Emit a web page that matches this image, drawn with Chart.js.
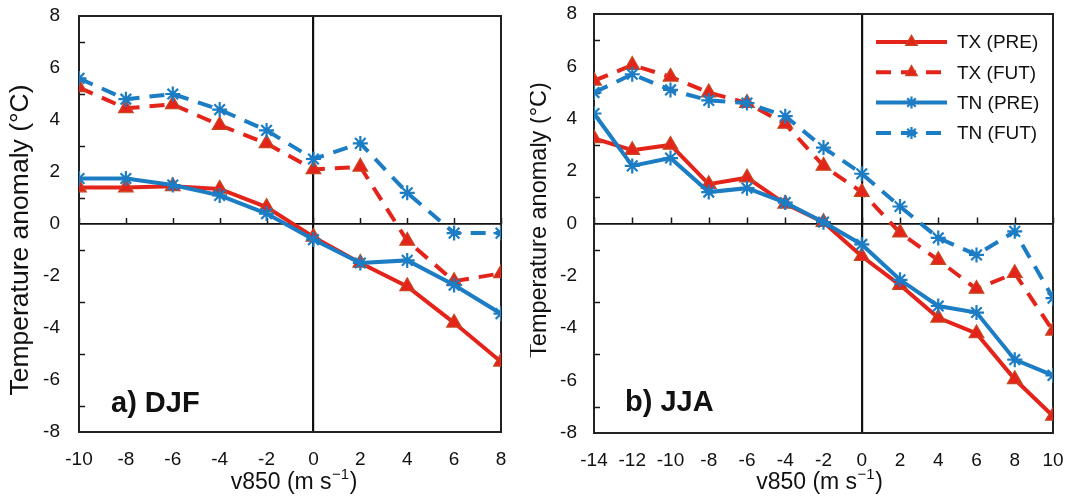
<!DOCTYPE html>
<html>
<head>
<meta charset="utf-8">
<script src="https://cdn.jsdelivr.net/npm/chart.js@4.4.1/dist/chart.umd.min.js"></script>
<style>
  html, body { margin: 0; padding: 0; background: #fff; }
  #wrap { position: relative; width: 1067px; height: 498px; overflow: hidden; }
  canvas { position: absolute; top: 0; }
  #c1 { left: 0; }
  #c2 { left: 530px; }
</style>
</head>
<body>
<div id="wrap">
  <canvas id="c1" width="530" height="498"></canvas>
  <canvas id="c2" width="537" height="498"></canvas>
</div>
<script>
// ---------- DATA ----------
const seriesNames = ['TX (PRE)', 'TX (FUT)', 'TN (PRE)', 'TN (FUT)'];
const yTicks = [-8, -6, -4, -2, 0, 2, 4, 6, 8];

// a) DJF
const xDJF      = [-10, -8, -6, -4, -2, 0, 2, 4, 6, 8];
const txPreDJF  = [1.4, 1.4, 1.45, 1.35, 0.65, -0.5, -1.5, -2.4, -3.8, -5.3];
const txFutDJF  = [5.25, 4.45, 4.6, 3.8, 3.1, 2.1, 2.2, -0.65, -2.2, -1.9];
const tnPreDJF  = [1.75, 1.75, 1.5, 1.1, 0.4, -0.6, -1.5, -1.4, -2.35, -3.45];
const tnFutDJF  = [5.6, 4.8, 5.0, 4.4, 3.6, 2.5, 3.1, 1.2, -0.35, -0.35];

// b) JJA
const xJJA      = [-14, -12, -10, -8, -6, -4, -2, 0, 2, 4, 6, 8, 10];
const txPreJJA  = [3.25, 2.8, 3.0, 1.5, 1.75, 0.75, 0.05, -1.25, -2.35, -3.6, -4.2, -5.95, -7.35];
const txFutJJA  = [5.45, 6.05, 5.6, 5.0, 4.6, 3.8, 2.2, 1.2, -0.35, -1.4, -2.5, -1.9, -4.1];
const tnPreJJA  = [4.2, 2.2, 2.5, 1.2, 1.35, 0.8, 0.05, -0.8, -2.15, -3.15, -3.4, -5.2, -5.8];
const tnFutJJA  = [5.0, 5.7, 5.1, 4.7, 4.6, 4.1, 2.9, 1.9, 0.65, -0.55, -1.2, -0.3, -2.85];

// ---------- STYLE ----------
const RED = 'rgb(228,36,26)';
const RED_EDGE = 'rgb(200,70,30)';
const BLUE = 'rgb(28,125,196)';
const FONT = '"Liberation Sans", Arial, Helvetica, sans-serif';
const DASH = [15, 10];

function styleFor(i) {
  const isTX = i < 2;
  const isFut = i % 2 === 1;
  return {
    borderColor: isTX ? RED : BLUE,
    backgroundColor: isTX ? RED : BLUE,
    pointBackgroundColor: isTX ? RED : BLUE,
    pointBorderColor: isTX ? RED_EDGE : BLUE,
    pointStyle: isTX ? 'triangle' : 'star',
    pointRadius: isTX ? 8.5 : 7.5,
    pointBorderWidth: isTX ? 1.2 : 2.2,
    borderWidth: 4,
    borderDash: isFut ? DASH : [],
    tension: 0,
    fill: false
  };
}

function makeDatasets(xs, arrs) {
  const order = [3, 2, 1, 0];
  return arrs.map((vals, i) => Object.assign({
    label: seriesNames[i],
    data: xs.map((x, k) => ({ x: x, y: vals[k] })),
    order: order[i]
  }, styleFor(i)));
}

function drawSuperTitle(ctx, cx, cy) {
  const big = '23px ' + FONT, small = '15px ' + FONT;
  const p1 = 'v850 (m s', sup = '\u22121', p2 = ')';
  ctx.font = big; const w1 = ctx.measureText(p1).width, w3 = ctx.measureText(p2).width;
  ctx.font = small; const w2 = ctx.measureText(sup).width;
  const total = w1 + w2 + w3 + 1;
  let x = cx - total / 2;
  ctx.textAlign = 'left'; ctx.textBaseline = 'middle'; ctx.fillStyle = '#111';
  ctx.font = big; ctx.fillText(p1, x, cy); x += w1;
  ctx.font = small; ctx.fillText(sup, x + 0.5, cy - 8); x += w2 + 1;
  ctx.font = big; ctx.fillText(p2, x, cy);
}

const decor = {
  id: 'decor',
  beforeDatasetsDraw(chart, args, o) {
    const { ctx, chartArea: a, scales: { x, y } } = chart;
    ctx.save();
    ctx.strokeStyle = '#1a1a1a';
    ctx.lineWidth = 1.5;
    for (let v = y.min + 1; v < y.max; v += 2) {
      const py = Math.round(y.getPixelForValue(v)) + 0.5;
      ctx.beginPath(); ctx.moveTo(a.left, py); ctx.lineTo(a.left + 6, py); ctx.stroke();
    }
    const y0 = y.getPixelForValue(0);
    o.xs.forEach(v => {
      const px = Math.round(x.getPixelForValue(v)) + 0.5;
      ctx.beginPath(); ctx.moveTo(px, y0); ctx.lineTo(px, y0 - 6); ctx.stroke();
    });
    ctx.lineWidth = 2;
    ctx.strokeStyle = '#222';
    ctx.strokeRect(a.left, a.top, a.right - a.left, a.bottom - a.top);
    ctx.restore();
  },
  afterDraw(chart, args, o) {
    const { ctx, chartArea: a } = chart;
    ctx.save();
    ctx.font = 'bold 29px ' + FONT;
    ctx.fillStyle = '#111';
    ctx.textAlign = 'left'; ctx.textBaseline = 'alphabetic';
    ctx.fillText(o.panel, o.panelX, o.panelY);
    ctx.save();
    ctx.translate(o.yTitleX, o.yTitleY);
    ctx.rotate(-Math.PI / 2);
    ctx.font = o.yTitleSize + 'px ' + FONT;
    ctx.textAlign = 'center'; ctx.textBaseline = 'middle';
    ctx.fillText('Temperature anomaly (\u00B0C)', 0, 0);
    ctx.restore();
    drawSuperTitle(ctx, (a.left + a.right) / 2 + o.xTitleDX, o.xTitleY);
    if (o.legend) {
      const L = o.legend;
      chart.data.datasets.forEach((ds, i) => {
        const yy = L.y0 + i * L.dy;
        ctx.save();
        ctx.strokeStyle = ds.borderColor;
        ctx.lineWidth = ds.borderWidth;
        ctx.lineCap = 'butt';
        ctx.setLineDash(ds.borderDash || []);
        ctx.beginPath(); ctx.moveTo(L.x0, yy); ctx.lineTo(L.x1, yy); ctx.stroke();
        ctx.setLineDash([]);
        ctx.fillStyle = ds.pointBackgroundColor;
        ctx.strokeStyle = ds.pointBorderColor;
        ctx.lineWidth = ds.pointBorderWidth;
        Chart.helpers.drawPoint(ctx, {
          pointStyle: ds.pointStyle, radius: ds.pointRadius * 0.8, borderWidth: ds.pointBorderWidth,
          rotation: 0
        }, (L.x0 + L.x1) / 2, yy);
        ctx.restore();
        ctx.font = '19px ' + FONT;
        ctx.fillStyle = '#111';
        ctx.textAlign = 'left'; ctx.textBaseline = 'middle';
        ctx.fillText(ds.label, L.tx, yy + 1);
      });
    }
    ctx.restore();
  }
};

function makeChart(id, xs, arrs, opt) {
  const ctx = document.getElementById(id).getContext('2d');
  return new Chart(ctx, {
    type: 'line',
    data: { datasets: makeDatasets(xs, arrs) },
    plugins: [decor],
    options: {
      responsive: false,
      animation: false,
      devicePixelRatio: 1,
      layout: { padding: { left: 0, right: opt.padRight, top: opt.padTop, bottom: 0 } },
      plugins: {
        legend: { display: false },
        tooltip: { enabled: false },
        decor: opt.decor
      },
      scales: {
        x: {
          type: 'linear',
          min: xs[0], max: xs[xs.length - 1],
          afterBuildTicks: s => { s.ticks = xs.map(v => ({ value: v })); },
          afterFit: s => { s.height = opt.xHeight; s.paddingLeft = 0; s.paddingRight = 0; },
          grid: {
            drawTicks: false,
            color: c => (c.tick && c.tick.value === 0) ? '#111' : 'rgba(0,0,0,0)',
            lineWidth: c => (c.tick && c.tick.value === 0) ? 2.2 : 0
          },
          border: { display: false },
          ticks: { color: '#111', font: { family: FONT, size: 19 }, padding: 16, maxRotation: 0, autoSkip: false }
        },
        y: {
          type: 'linear',
          min: yTicks[0], max: yTicks[yTicks.length - 1],
          afterBuildTicks: s => { s.ticks = yTicks.map(v => ({ value: v })); },
          afterFit: s => { s.width = opt.yWidth; s.paddingTop = 0; s.paddingBottom = 0; },
          grid: {
            drawTicks: false,
            color: c => (c.tick && c.tick.value === 0) ? '#111' : 'rgba(0,0,0,0)',
            lineWidth: c => (c.tick && c.tick.value === 0) ? 1.8 : 0
          },
          border: { display: false },
          ticks: { color: '#111', font: { family: FONT, size: 19 }, padding: opt.yPad }
        }
      }
    }
  });
}

makeChart('c1', xDJF, [txPreDJF, txFutDJF, tnPreDJF, tnFutDJF], {
  padRight: 29, padTop: 16, xHeight: 66, yWidth: 79, yPad: 19,
  decor: { xs: xDJF, panel: 'a) DJF', panelX: 111, panelY: 412,
           yTitleX: 21, yTitleY: 240, yTitleSize: 26.5, xTitleY: 483, xTitleDX: 4, legend: null }
});

makeChart('c2', xJJA, [txPreJJA, txFutJJA, tnPreJJA, tnFutJJA], {
  padRight: 14, padTop: 14, xHeight: 65, yWidth: 64, yPad: 17,
  decor: { xs: xJJA, panel: 'b) JJA', panelX: 95, panelY: 411,
           yTitleX: 10, yTitleY: 220, yTitleSize: 23.5, xTitleY: 483, xTitleDX: -4,
           legend: { x0: 346, x1: 417, tx: 427, y0: 42, dy: 30.3 } }
});
</script>
</body>
</html>
